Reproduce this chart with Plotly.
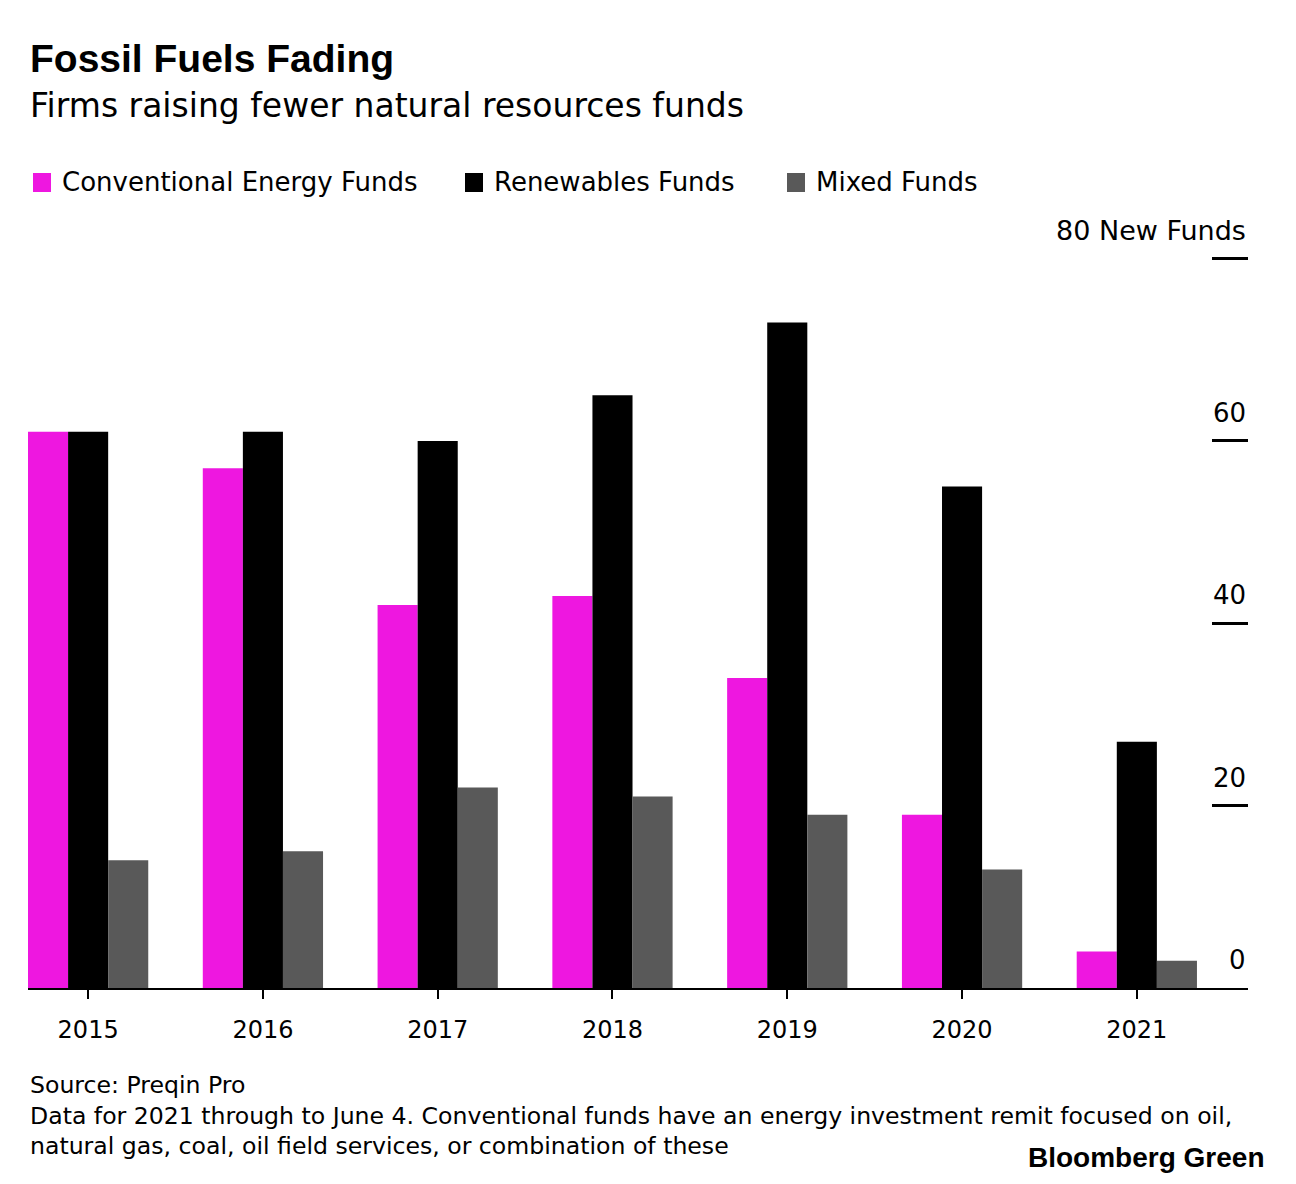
import plotly.graph_objects as go

years = ["2015", "2016", "2017", "2018", "2019", "2020", "2021"]
conventional = [61, 57, 42, 43, 34, 19, 4]
renewables = [61, 61, 60, 65, 73, 55, 27]
mixed = [14, 15, 22, 21, 19, 13, 3]
series_names = ["Conventional Energy Funds", "Renewables Funds", "Mixed Funds"]
colors = ["#EE17E0", "#000000", "#595959"]
y_ticks = [0, 20, 40, 60, 80]
y_ticktext = ["0", "20", "40", "60", "80 New Funds"]

FONT = "DejaVu Sans"
BFONT = "Liberation Sans"
W, H = 1296, 1184
L, R, T, B = 28, 48, 254, 196
pw, ph = W - L - R, H - T - B

xs = list(range(len(years)))
fig = go.Figure()
for name, vals, c in zip(series_names, [conventional, renewables, mixed], colors):
    fig.add_trace(go.Bar(x=xs, y=vals, name=name, marker=dict(color=c, line=dict(width=0)),
                         showlegend=False))

fig.update_layout(
    width=W, height=H,
    margin=dict(l=L, r=R, t=T, b=B),
    paper_bgcolor="white", plot_bgcolor="white",
    barmode="group", bargap=0.312, bargroupgap=0,
    font=dict(family=FONT, color="#000"),
    xaxis=dict(range=[-0.344, 6.636], tickvals=xs, ticktext=years,
               ticks="outside", ticklen=9, tickwidth=2, tickcolor="#000",
               ticklabelstandoff=10,
               showline=True, linecolor="#000", linewidth=2,
               showgrid=False, zeroline=False,
               tickfont=dict(size=24, family=FONT, color="#000")),
    yaxis=dict(range=[0, 80.5], side="right", tickvals=y_ticks,
               ticks="inside", ticklen=36, tickwidth=3, tickcolor="#000",
               showticklabels=False,
               showgrid=False, zeroline=False, showline=False),
)

# Y tick labels above tick marks
for v, t in zip(y_ticks, y_ticktext):
    fig.add_annotation(text=t, xref="paper", yref="y", x=1, y=v, xanchor="right", yanchor="middle",
                       yshift=28, showarrow=False,
                       font=dict(size=26 if v != 80 else 27, family=FONT, color="#000"))

# Title / subtitle
fig.add_annotation(text="<b>Fossil Fuels Fading</b>", xref="paper", yref="paper",
                   x=0, y=1 + (T - 58) / ph, xanchor="left", yanchor="middle",
                   showarrow=False, font=dict(size=39, family=BFONT, color="#000"))
fig.add_annotation(text="Firms raising fewer natural resources funds", xref="paper", yref="paper",
                   x=0, y=1 + (T - 106) / ph,
                   xanchor="left", yanchor="middle",
                   showarrow=False, font=dict(size=33, family=FONT, color="#000"))

# Manual legend
leg_x = [33, 465, 787]
for name, c, lx in zip(series_names, colors, leg_x):
    fig.add_shape(type="rect", xref="paper", yref="paper",
                  x0=(lx - L) / pw, x1=(lx + 18 - L) / pw,
                  y0=1 + (T - 192) / ph, y1=1 + (T - 173) / ph,
                  fillcolor=c, line=dict(width=0))
    fig.add_annotation(text=name, xref="paper", yref="paper",
                       x=(lx + 27 - L) / pw, y=1 + (T - 182) / ph, xanchor="left", yanchor="middle",
                       showarrow=False, font=dict(size=26, family=FONT, color="#000"))

# Footer
fig.add_annotation(text="Source: Preqin Pro<br>Data for 2021 through to June 4. Conventional funds have an energy investment remit focused on oil,<br>natural gas, coal, oil field services, or combination of these",
                   xref="paper", yref="paper", x=0, y=-(1069 - (H - B)) / ph,
                   xanchor="left", yanchor="top", align="left", showarrow=False,
                   font=dict(size=23.6, family=FONT, color="#000"))
fig.add_annotation(text="<b>Bloomberg Green</b>", xref="paper", yref="paper",
                   x=(1266 - L) / pw, y=-(1157 - (H - B)) / ph, xanchor="right", yanchor="middle",
                   showarrow=False, font=dict(size=28, family=BFONT, color="#000"))

fig.write_html("out.html")
